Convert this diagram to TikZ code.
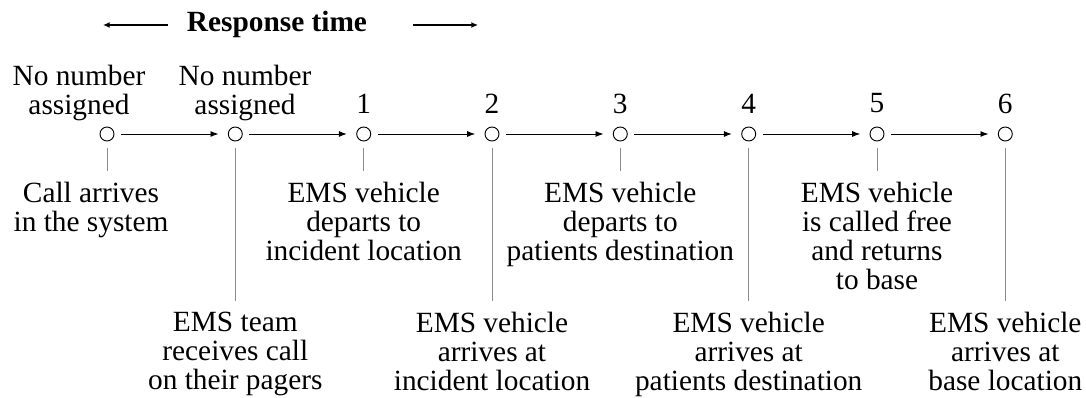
\documentclass[tikz,border=0pt]{standalone}
\usepackage{fontspec}
\setmainfont{Liberation Serif}
\usetikzlibrary{arrows.meta}
\definecolor{conngray}{RGB}{140,140,140}
\begin{document}
\begin{tikzpicture}[x=0.75pt,y=-0.75pt,
  lbl/.style={inner sep=0pt, align=center, anchor=north, font=\fontsize{22pt}{21.75pt}\selectfont},
  ttl/.style={inner sep=0pt, anchor=base, font=\fontsize{22pt}{21.75pt}\selectfont\bfseries},
  evt/.style={circle, draw, line width=0.7pt, minimum size=10.5pt, inner sep=0pt},
  arr/.style={line width=0.7pt, -{Latex[length=6pt,width=4.5pt]}, shorten <=5pt, shorten >=7pt},
  tarr/.style={line width=1.2pt, -{Latex[length=5pt,width=4.5pt]}},
  conn/.style={draw=conngray, line width=0.7pt, shorten <=5pt, shorten >=8pt}]
\useasboundingbox (0,0) rectangle (1086,398);

% title
\node[ttl] (title) at (277,32) {Response time};
\coordinate (la1) at (168,25);
\coordinate (la2) at (103,25);
\coordinate (ra1) at (413,25);
\coordinate (ra2) at (478,25);
\draw[tarr] (la1) -- (la2);
\draw[tarr] (ra1) -- (ra2);

% events
\node[evt] (c0) at (107,134) {};
\node[evt] (c1) at (235.3,134) {};
\node[evt] (c2) at (363.7,134) {};
\node[evt] (c3) at (492,134) {};
\node[evt] (c4) at (620.3,134) {};
\node[evt] (c5) at (748.7,134) {};
\node[evt] (c6) at (877,134) {};
\node[evt] (c7) at (1005.3,134) {};

\foreach \a/\b in {c0/c1,c1/c2,c2/c3,c3/c4,c4/c5,c5/c6,c6/c7}
  \draw[arr] (\a) -- (\b);

% top labels
\node[lbl] (t0) at (79,65) {No number\\assigned};
\node[lbl] (t1) at (245,65) {No number\\assigned};
\node[lbl] (t2) at (363.7,93.5) {1};
\node[lbl] (t3) at (492,93.5) {2};
\node[lbl] (t4) at (620.3,93.5) {3};
\node[lbl] (t5) at (748.7,93.5) {4};
\node[lbl] (t6) at (877,93.5) {5};
\node[lbl] (t7) at (1005.3,93.5) {6};

% bottom labels
\node[lbl] (b0) at (91,182) {Call arrives\\in the system};
\node[lbl] (b1) at (235.3,312) {EMS team\\receives call\\on their pagers};
\node[lbl] (b2) at (363.7,182) {EMS vehicle\\departs to\\incident location};
\node[lbl] (b3) at (492,312) {EMS vehicle\\arrives at\\incident location};
\node[lbl] (b4) at (620.3,182) {EMS vehicle\\departs to\\patients destination};
\node[lbl] (b5) at (748.7,312) {EMS vehicle\\arrives at\\patients destination};
\node[lbl] (b6) at (877,182) {EMS vehicle\\is called free\\and returns\\to base};
\node[lbl] (b7) at (1005.3,312) {EMS vehicle\\arrives at\\base location};

\foreach \i in {0,...,7}
  \draw[conn] (c\i.south) -- (c\i.south |- b\i.north);
\end{tikzpicture}
\end{document}
